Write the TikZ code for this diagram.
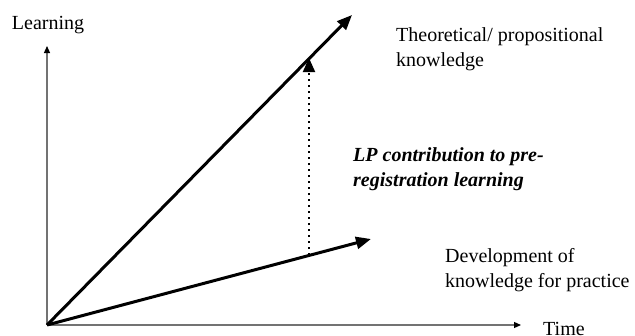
\documentclass[tikz,border=0pt]{standalone}
\usepackage{fontspec}
\setmainfont{Liberation Serif}
\usetikzlibrary{arrows.meta}
\begin{document}
\begin{tikzpicture}[x=1pt, y=-1pt,
  every node/.style={font=\fontsize{20}{25}\selectfont, align=left, inner sep=0pt},
  axis/.style={draw=black!55, line width=1.2pt, -{Triangle[length=7pt,width=6pt,color=black]}},
  growth/.style={line width=3pt, -{Triangle[length=15pt,width=12pt]}},
  gap/.style={line width=2pt, dash pattern=on 2pt off 4pt, -{Triangle[length=14pt,width=12pt]}}]
\useasboundingbox (0,0) rectangle (635,335);
\coordinate (O) at (47,325);
\coordinate (ytip) at (47,46);
\coordinate (xtip) at (521,325);
\coordinate (theotip) at (352,15);
\coordinate (practip) at (371,239);
\coordinate (low) at (309,255);
\coordinate (high) at (309,58);

\node (learning) at (48,25) {Learning};
\node (time) [anchor=north west] at (543,322) {Time};
\node (theory) [anchor=west] at (396,49.5) {Theoretical/ propositional\\knowledge};
\node (practice) [anchor=west] at (445,270) {Development of\\knowledge for practice};
\node (lp) [anchor=west] at (353,169.5) {\bfseries\itshape LP contribution to pre-\\\bfseries\itshape registration learning};

\draw[axis] (O) -- (ytip);
\draw[axis] (O) -- (xtip);
\draw[growth] (O) -- (theotip);
\draw[growth] (O) -- (practip);
\draw[gap] (low) -- (high);
\end{tikzpicture}
\end{document}
